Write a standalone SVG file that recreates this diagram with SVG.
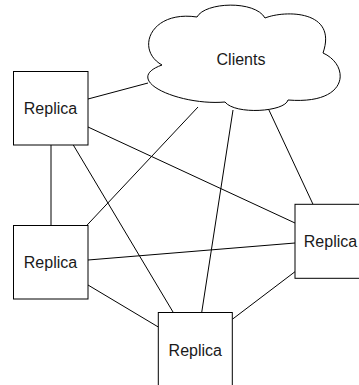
<svg xmlns="http://www.w3.org/2000/svg" width="359" height="385" viewBox="0 0 359 385">
<style>
.box{fill:#fff;stroke:#000;stroke-width:1}
.lbl{font-family:"Liberation Sans",Arial,Helvetica,sans-serif;font-size:16px;fill:#1a1a1a;text-anchor:middle}
.edge{stroke:#000;stroke-width:1;fill:none}
</style>
<rect width="359" height="385" fill="#fff"/>
<g id="connectors">
<line class="edge" x1="88" y1="99" x2="148" y2="83"/>
<line class="edge" x1="88" y1="127" x2="295" y2="223"/>
<line class="edge" x1="51" y1="145" x2="51" y2="225.5"/>
<line class="edge" x1="73.3" y1="145" x2="173.3" y2="312.5"/>
<line class="edge" x1="86.7" y1="225.5" x2="198" y2="107"/>
<line class="edge" x1="88" y1="260" x2="295" y2="243"/>
<line class="edge" x1="88" y1="285" x2="158.3" y2="327"/>
<line class="edge" x1="233" y1="110" x2="201.7" y2="312.5"/>
<line class="edge" x1="268" y1="108" x2="313" y2="204.3"/>
<line class="edge" x1="295" y1="271.7" x2="232.3" y2="319.3"/>
</g>
<g id="clients">
<path class="box" d="M197 17 C205 2,255 0,265 18 C285 10,338 10,323 53 C350 65,350 105,288 100 C285 112,235 115,225 102 C180 106,120 80,162 65 C135 50,150 10,197 17 Z"/>
<text class="lbl" x="241" y="65">Clients</text>
</g>
<g id="replica1">
<rect class="box" x="13.5" y="71.5" width="74.5" height="73.5"/>
<text class="lbl" x="50.5" y="114">Replica</text>
</g>
<g id="replica2">
<rect class="box" x="13.5" y="225.5" width="74.5" height="73.5"/>
<text class="lbl" x="50.5" y="267.5">Replica</text>
</g>
<g id="replica3">
<rect class="box" x="295" y="204.3" width="74" height="74"/>
<text class="lbl" x="330.5" y="247">Replica</text>
</g>
<g id="replica4">
<rect class="box" x="158.3" y="312.5" width="74" height="74"/>
<text class="lbl" x="195.3" y="355.5">Replica</text>
</g>
</svg>
